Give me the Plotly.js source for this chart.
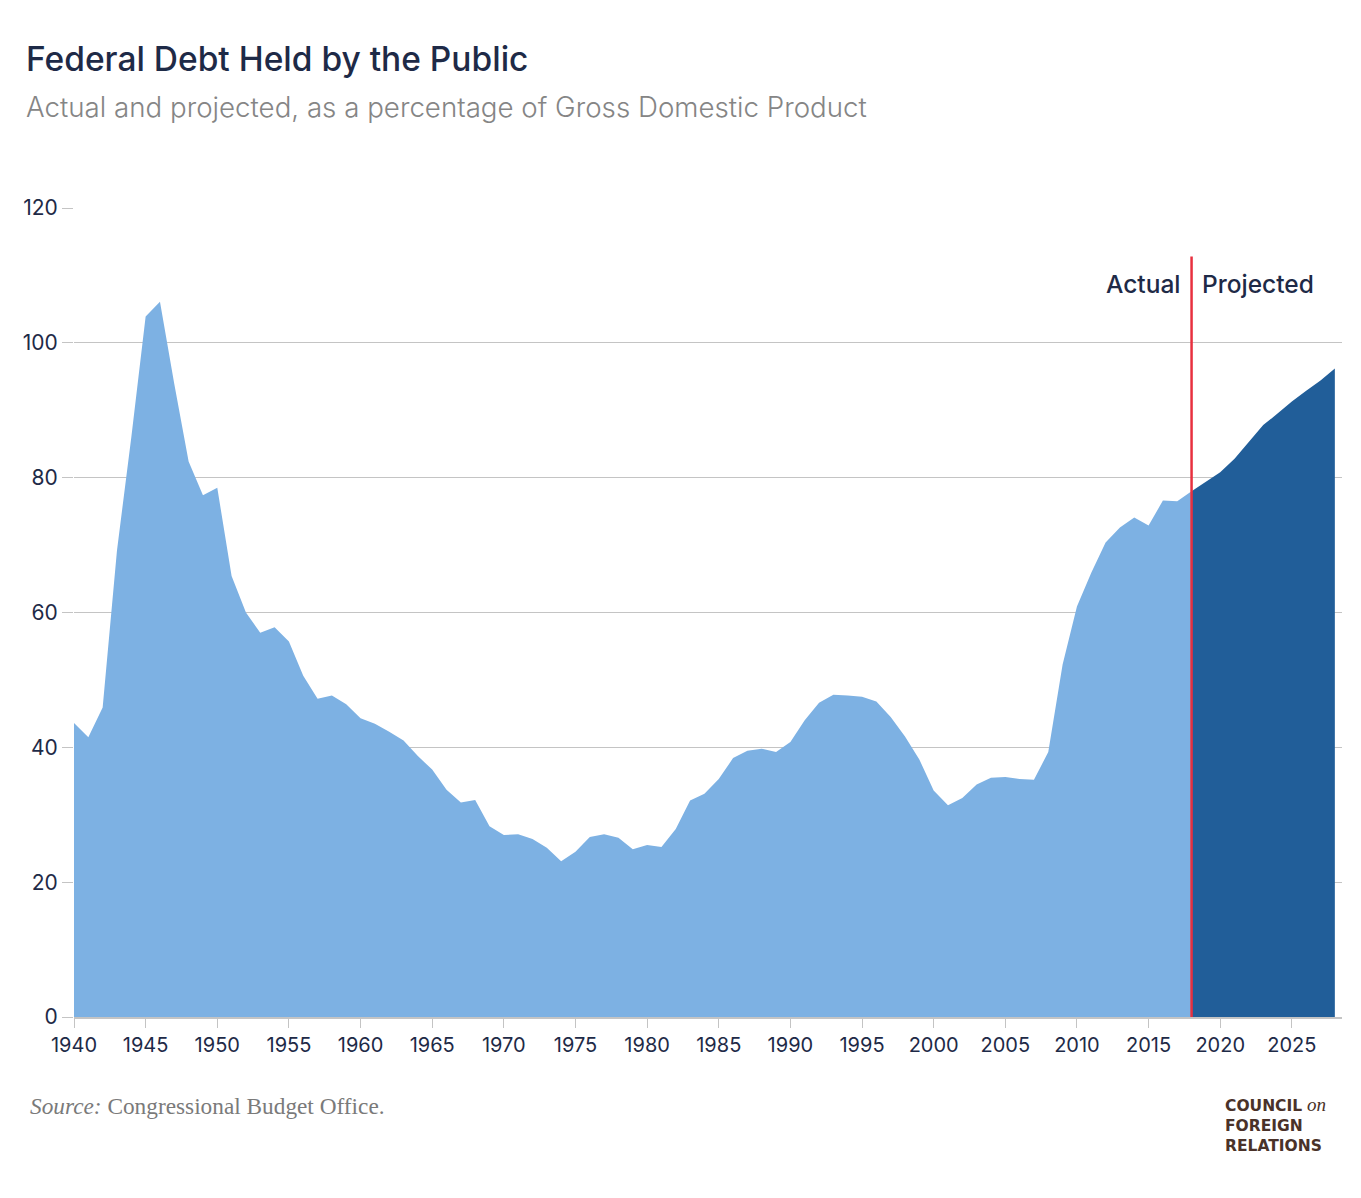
<!DOCTYPE html>
<html>
<head>
<meta charset="utf-8">
<script src="https://cdn.plot.ly/plotly-3.0.1.min.js"></script>
<style>
  html, body { margin: 0; padding: 0; background: #ffffff; }
  #chart { width: 1361px; height: 1198px; }
</style>
</head>
<body>
<div id="chart"></div>
<script>
// ---- Data (percent of GDP) ----
const actualYears = [
  1940,1941,1942,1943,1944,1945,1946,1947,1948,1949,
  1950,1951,1952,1953,1954,1955,1956,1957,1958,1959,
  1960,1961,1962,1963,1964,1965,1966,1967,1968,1969,
  1970,1971,1972,1973,1974,1975,1976,1977,1978,1979,
  1980,1981,1982,1983,1984,1985,1986,1987,1988,1989,
  1990,1991,1992,1993,1994,1995,1996,1997,1998,1999,
  2000,2001,2002,2003,2004,2005,2006,2007,2008,2009,
  2010,2011,2012,2013,2014,2015,2016,2017,2018
];
const actualDebt = [
  43.6,41.5,45.9,69.2,86.0,103.9,106.1,93.9,82.4,77.4,
  78.5,65.4,60.0,57.0,57.8,55.7,50.6,47.2,47.7,46.4,
  44.3,43.5,42.3,41.0,38.7,36.7,33.7,31.8,32.2,28.3,
  27.0,27.1,26.4,25.1,23.1,24.5,26.7,27.1,26.6,24.9,
  25.5,25.2,27.9,32.1,33.1,35.3,38.4,39.5,39.8,39.3,
  40.8,44.0,46.6,47.8,47.7,47.5,46.8,44.5,41.6,38.2,
  33.6,31.4,32.5,34.5,35.5,35.6,35.3,35.2,39.3,52.3,
  60.9,65.9,70.4,72.6,74.1,72.9,76.6,76.5,78.0
];
const projectedYears = [2018,2019,2020,2021,2022,2023,2024,2025,2026,2027,2028];
const projectedDebt  = [78.0,79.4,80.8,82.8,85.3,87.8,89.5,91.3,92.9,94.4,96.2];

const xTicks = [1940,1945,1950,1955,1960,1965,1970,1975,1980,1985,1990,1995,2000,2005,2010,2015,2020,2025];
const yTicks = [0,20,40,60,80,100,120];
const splitYear = 2018;
const splitLineTop = 112.8;

// ---- Styles ----
const NAVY = '#1e2a47';
const GRID = '#c4c4c4';
const SANS = 'Inter, "Noto Sans", sans-serif';
const LOGO_COLOR = '#4a3229';

const traces = [
  {
    x: actualYears, y: actualDebt, type: 'scatter', mode: 'lines',
    fill: 'tozeroy', fillcolor: '#7db1e3',
    line: { width: 0, color: '#7db1e3' }, hoverinfo: 'x+y', showlegend: false
  },
  {
    x: projectedYears, y: projectedDebt, type: 'scatter', mode: 'lines',
    fill: 'tozeroy', fillcolor: '#215e99',
    line: { width: 0, color: '#215e99' }, hoverinfo: 'x+y', showlegend: false
  }
];

// pixel helpers for paper-coordinate placement of page texts
const PL = 74, PR = 1342, PT = 208, PB = 1017;
const px2x = p => (p - PL) / (PR - PL);
const py2y = p => (PB - p) / (PB - PT);

const annotations = [
  {
    text: 'Federal Debt Held by the Public',
    xref: 'paper', yref: 'paper', x: px2x(24), y: py2y(58.5),
    xanchor: 'left', yanchor: 'middle', showarrow: false,
    font: { family: SANS, size: 33.5, color: NAVY, weight: 500 }
  },
  {
    text: 'Actual and projected, as a percentage of Gross Domestic Product',
    xref: 'paper', yref: 'paper', x: px2x(24), y: py2y(107),
    xanchor: 'left', yanchor: 'middle', showarrow: false,
    font: { family: SANS, size: 27.7, color: '#858585', weight: 300 }
  },
  {
    text: 'Actual',
    xref: 'x', yref: 'y', x: splitYear, y: 108.8, xshift: -10,
    xanchor: 'right', yanchor: 'middle', showarrow: false,
    font: { family: SANS, size: 24.5, color: NAVY, weight: 500 }
  },
  {
    text: 'Projected',
    xref: 'x', yref: 'y', x: splitYear, y: 108.8, xshift: 8,
    xanchor: 'left', yanchor: 'middle', showarrow: false,
    font: { family: SANS, size: 24.5, color: NAVY, weight: 500 }
  },
  {
    text: '<i>Source:</i> Congressional Budget Office.',
    xref: 'paper', yref: 'paper', x: px2x(28), y: py2y(1106),
    xanchor: 'left', yanchor: 'middle', showarrow: false,
    font: { family: '"Liberation Serif", "DejaVu Serif", serif', size: 23.3, color: '#7a7a7a' }
  },
  {
    text: 'COUNCIL<span style="font-family:\'Liberation Serif\',serif;font-style:italic;font-weight:normal;font-size:19px"> on</span><br>FOREIGN<br>RELATIONS',
    xref: 'paper', yref: 'paper', x: px2x(1223), y: py2y(1124),
    xanchor: 'left', yanchor: 'middle', align: 'left', showarrow: false,
    font: { family: '"DejaVu Sans", sans-serif', size: 15.5, color: LOGO_COLOR, weight: 700 }
  }
];

const layout = {
  width: 1361, height: 1198,
  margin: { l: PL, r: 1361 - PR, t: PT, b: 1198 - PB },
  paper_bgcolor: '#ffffff', plot_bgcolor: '#ffffff',
  font: { family: SANS, color: NAVY },
  showlegend: false,
  xaxis: {
    range: [1940, 2028.5],
    tickvals: xTicks, ticktext: xTicks.map(String),
    ticks: 'outside', ticklen: 9, tickcolor: GRID, tickwidth: 1,
    showline: true, linecolor: GRID, linewidth: 1.5,
    showgrid: false, zeroline: false,
    tickfont: { family: SANS, size: 20, color: NAVY },
    fixedrange: true
  },
  yaxis: {
    range: [0, 120],
    tickvals: yTicks, ticktext: yTicks.map(String),
    ticks: 'outside', ticklen: 11, tickcolor: GRID, tickwidth: 1,
    showline: false, showgrid: true, gridcolor: GRID, gridwidth: 1,
    zeroline: false,
    tickfont: { family: SANS, size: 21, color: NAVY },
    fixedrange: true
  },
  shapes: [
    {
      type: 'line', xref: 'x', yref: 'y',
      x0: splitYear, x1: splitYear, y0: 0, y1: splitLineTop,
      line: { color: '#e8303f', width: 2.5 }, layer: 'above'
    }
  ],
  annotations: annotations
};

Plotly.newPlot('chart', traces, layout, { displayModeBar: false, staticPlot: true });
</script>
</body>
</html>
